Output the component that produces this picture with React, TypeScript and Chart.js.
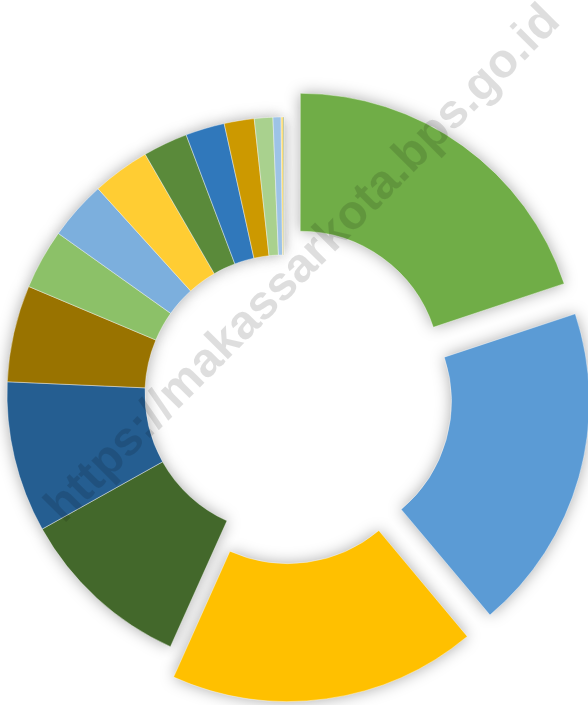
import React, { useEffect, useRef } from "react";
import { Chart, registerables } from "chart.js";

Chart.register(...registerables);

// Share of each category (percent), clockwise from 12 o'clock
const categories = [
  "Kategori 1", "Kategori 2", "Kategori 3", "Kategori 4",
  "Kategori 5", "Kategori 6", "Kategori 7", "Kategori 8",
  "Kategori 9", "Kategori 10", "Kategori 11", "Kategori 12",
  "Kategori 13", "Kategori 14", "Kategori 15", "Kategori 16",
];
const shares = [
  19.89, 19.0, 17.83, 10.17, 8.81, 5.64, 3.5, 3.44,
  3.36, 2.61, 2.28, 1.75, 1.08, 0.47, 0.125, 0.04,
];
const sliceColors = [
  "#70AD47", "#5B9BD5", "#FFC000", "#43682B",
  "#255E91", "#997300", "#8CC168", "#7CAFDD",
  "#FFCD33", "#5A8A3A", "#3078BB", "#CC9900",
  "#A9D18E", "#9DC3E6", "#FFD966", "#4E7A32",
];
const explodedSlices = [110, 110, 112, 0, 0, 0, 0, 0, 0, 0, 0, 0, 0, 0, 0, 0];
const watermarkText = "https://makassarkota.bps.go.id";

const W = 588;
const H = 705;

const shadowPlugin = {
  id: "softShadow",
  beforeDatasetsDraw(chart: any) {
    const ctx = chart.ctx;
    const meta = chart.getDatasetMeta(0);
    ctx.save();
    ctx.shadowColor = "rgba(0,0,0,0.34)";
    ctx.shadowBlur = 15;
    ctx.shadowOffsetX = 5000;
    ctx.shadowOffsetY = 0;
    ctx.translate(-5000, 0);
    meta.data.forEach((arc: any) => arc.draw(ctx));
    ctx.restore();
  },
};

const watermarkPlugin = {
  id: "watermark",
  afterDraw(chart: any) {
    const ctx = chart.ctx;
    ctx.save();
    ctx.translate(303.5, 264.5);
    ctx.rotate((-45.2 * Math.PI) / 180);
    ctx.font = 'bold 48px "Liberation Sans", Arial, sans-serif';
    ctx.fillStyle = "rgba(0,0,0,0.13)";
    ctx.textAlign = "center";
    ctx.textBaseline = "middle";
    ctx.fillText(watermarkText, 0, 0);
    ctx.restore();
  },
};

export default function App() {
  const ref = useRef<HTMLCanvasElement | null>(null);
  useEffect(() => {
    if (!ref.current) return;
    const chart = new Chart(ref.current, {
      type: "doughnut",
      data: {
        labels: categories,
        datasets: [
          {
            data: shares,
            backgroundColor: sliceColors,
            borderColor: "rgba(255,255,255,0.55)",
            borderWidth: 0.75,
            offset: explodedSlices,
            clip: false,
          } as any,
        ],
      },
      options: {
        animation: false,
        responsive: false,
        devicePixelRatio: 1,
        radius: 277,
        cutout: "50.2%",
        layout: { padding: { left: 0, right: 20, top: 83, bottom: 0 } },
        plugins: {
          legend: { display: false },
          tooltip: { enabled: false },
        },
        events: [],
      } as any,
      plugins: [shadowPlugin, watermarkPlugin],
    });
    return () => chart.destroy();
  }, []);
  return (
    <div style={{ position: "fixed", left: 0, top: 0, width: W, height: H, background: "#fff" }}>
      <canvas ref={ref} width={W} height={H} style={{ width: W, height: H, display: "block" }} />
    </div>
  );
}
